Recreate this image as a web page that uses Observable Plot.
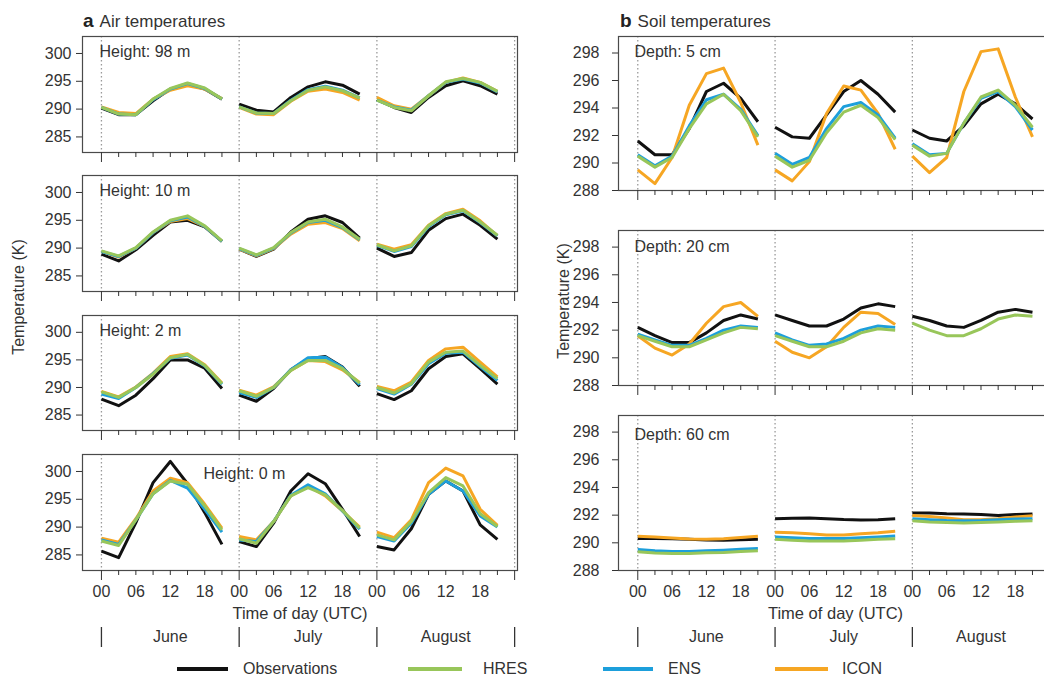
<!DOCTYPE html>
<html>
<head>
<meta charset="utf-8">
<script src="https://cdn.jsdelivr.net/npm/d3@7"></script>
<script src="https://cdn.jsdelivr.net/npm/@observablehq/plot@0.6"></script>
<style>
  html, body { margin: 0; padding: 0; background: #fff; }
  #root { position: relative; width: 1044px; height: 680px; overflow: hidden; background: #fff;
          font-family: "Liberation Sans", Arial, Helvetica, sans-serif; color: #333; }
  #root > * { position: absolute; }
  .ttl { font-size: 17px; line-height: 20px; white-space: nowrap; }
  .ttl b { font-size: 19px; margin-right: 6px; color: #222; }
  .ylab { font-size: 16px; white-space: nowrap; transform: translate(-50%, -50%) rotate(-90deg); line-height: 18px; }
  .leg { font-size: 16px; line-height: 18px; white-space: nowrap; }
  .sw { height: 4px; }
</style>
</head>
<body>
<div id="root"></div>
<script>
// ---------------- DATA ----------------
const months = ["June", "July", "August"];
const hours = [0, 3, 6, 9, 12, 15, 18, 21];
const seriesNames = ["Observations", "HRES", "ENS", "ICON"];
const seriesColors = ["#111111", "#98c65a", "#1d9fdb", "#f6a623"];
const airTicks = [285, 290, 295, 300];
const soilTicks = [288, 290, 292, 294, 296, 298];
const hourLabels = [0, 6, 12, 18];

// each series: June (00..21 UTC), July, August
const air98m = {
  Observations: [290.2, 289.0, 289.0, 291.5, 293.6, 294.5, 293.6, 291.8,  290.9, 289.8, 289.5, 292.1, 294.0, 294.9, 294.3, 292.7,  291.7, 290.3, 289.4, 292.1, 294.2, 295.1, 294.2, 292.7],
  HRES:         [290.3, 289.1, 289.0, 291.8, 293.7, 294.7, 293.8, 291.8,  290.4, 289.3, 289.2, 291.5, 293.4, 294.0, 293.3, 292.0,  291.6, 290.3, 289.7, 292.4, 294.9, 295.5, 294.8, 293.2],
  ENS:          [290.3, 289.1, 289.0, 291.7, 293.6, 294.6, 293.7, 291.8,  290.4, 289.3, 289.2, 291.6, 293.5, 294.1, 293.4, 292.0,  291.6, 290.4, 289.8, 292.4, 294.8, 295.4, 294.7, 293.1],
  ICON:         [290.4, 289.4, 289.2, 291.8, 293.4, 294.2, 293.6, 291.9,  290.3, 289.1, 289.0, 291.4, 293.2, 293.6, 293.0, 291.6,  292.1, 290.6, 290.0, 292.4, 294.8, 295.6, 294.8, 293.2]
};
const air10m = {
  Observations: [288.9, 287.7, 289.7, 292.3, 294.7, 295.0, 293.8, 291.2,  289.8, 288.5, 289.8, 292.9, 295.2, 295.8, 294.6, 291.8,  290.0, 288.5, 289.2, 293.2, 295.3, 296.1, 294.1, 291.6],
  HRES:         [289.5, 288.6, 290.1, 292.9, 295.0, 295.8, 294.0, 291.3,  290.0, 288.8, 290.1, 292.8, 294.7, 295.2, 293.8, 291.6,  290.6, 289.5, 290.4, 294.0, 296.1, 296.8, 294.7, 292.3],
  ENS:          [289.4, 288.5, 290.0, 292.8, 294.9, 295.6, 293.9, 291.2,  289.9, 288.7, 290.0, 292.7, 294.6, 295.0, 293.7, 291.5,  290.5, 289.4, 290.3, 293.9, 296.0, 296.7, 294.6, 292.2],
  ICON:         [289.4, 288.4, 290.0, 292.8, 294.8, 295.3, 293.9, 291.2,  289.8, 288.6, 289.9, 292.5, 294.3, 294.6, 293.5, 291.3,  290.7, 289.8, 290.6, 294.1, 296.2, 297.0, 294.9, 292.2]
};
const air2m = {
  Observations: [287.9, 286.7, 288.6, 291.6, 295.0, 295.0, 293.5, 289.8,  288.6, 287.5, 289.8, 293.2, 295.2, 295.6, 293.7, 290.2,  288.9, 287.8, 289.4, 293.4, 295.6, 296.1, 293.4, 290.6],
  HRES:         [289.2, 288.2, 290.0, 292.4, 295.4, 296.0, 294.0, 290.7,  289.4, 288.4, 290.0, 293.1, 294.9, 294.9, 293.4, 290.8,  290.0, 289.0, 290.7, 294.6, 296.4, 296.6, 294.0, 291.6],
  ENS:          [288.8, 288.0, 290.0, 292.5, 295.3, 295.9, 293.9, 290.6,  289.1, 288.2, 290.0, 293.2, 295.4, 295.5, 293.6, 290.5,  289.8, 288.8, 290.6, 294.3, 296.2, 296.4, 293.8, 291.3],
  ICON:         [289.3, 288.3, 290.1, 292.6, 295.6, 296.1, 294.1, 290.8,  289.5, 288.6, 290.1, 293.1, 294.9, 294.7, 293.2, 290.9,  290.2, 289.4, 291.0, 294.9, 297.0, 297.3, 294.6, 291.9]
};
const air0m = {
  Observations: [285.7, 284.5, 290.8, 298.0, 301.8, 297.8, 292.6, 286.9,  287.4, 286.5, 290.7, 296.5, 299.6, 297.8, 293.2, 288.3,  286.5, 285.9, 289.7, 295.9, 298.3, 296.5, 290.4, 287.8],
  HRES:         [287.5, 286.7, 291.3, 296.0, 298.3, 297.7, 293.8, 289.5,  287.9, 287.1, 291.0, 295.6, 297.1, 295.8, 293.0, 289.8,  288.6, 287.7, 291.0, 296.2, 298.9, 297.4, 292.4, 290.1],
  ENS:          [287.7, 286.9, 291.3, 296.0, 298.4, 297.0, 293.2, 289.1,  287.7, 287.4, 291.0, 295.7, 297.6, 296.0, 292.9, 289.6,  288.3, 287.5, 290.7, 295.9, 298.3, 296.5, 292.0, 290.0],
  ICON:         [288.0, 287.3, 291.5, 296.5, 298.8, 298.0, 294.1, 289.8,  288.3, 287.7, 291.0, 295.6, 297.4, 295.6, 292.9, 290.0,  289.1, 288.1, 291.3, 298.0, 300.6, 299.2, 293.2, 290.3]
};
const soil5cm = {
  Observations: [291.6, 290.6, 290.6, 292.5, 295.2, 295.8, 294.7, 293.0,  292.6, 291.9, 291.8, 293.5, 295.2, 296.0, 295.0, 293.7,  292.4, 291.8, 291.6, 292.7, 294.3, 295.0, 294.3, 293.2],
  HRES:         [290.5, 289.7, 290.4, 292.5, 294.3, 295.0, 293.8, 291.9,  290.5, 289.7, 290.2, 292.2, 293.7, 294.2, 293.3, 291.7,  291.3, 290.5, 290.7, 292.9, 294.8, 295.3, 294.2, 292.6],
  ENS:          [290.6, 289.8, 290.5, 292.7, 294.6, 295.0, 293.9, 292.0,  290.7, 289.9, 290.4, 292.5, 294.1, 294.4, 293.5, 291.8,  291.4, 290.6, 290.7, 292.9, 294.7, 295.2, 294.1, 292.4],
  ICON:         [289.5, 288.5, 290.4, 294.2, 296.5, 296.9, 294.4, 291.3,  289.5, 288.7, 290.1, 293.6, 295.6, 295.3, 293.6, 291.0,  290.5, 289.3, 290.4, 295.2, 298.1, 298.3, 294.8, 291.9]
};
const soil20cm = {
  Observations: [292.2, 291.6, 291.1, 291.1, 291.8, 292.7, 293.1, 292.8,  293.1, 292.7, 292.3, 292.3, 292.8, 293.6, 293.9, 293.7,  293.0, 292.7, 292.3, 292.2, 292.7, 293.3, 293.5, 293.3],
  HRES:         [291.6, 291.2, 290.8, 290.8, 291.3, 291.8, 292.2, 292.1,  291.6, 291.2, 290.8, 290.8, 291.2, 291.8, 292.1, 292.0,  292.5, 292.0, 291.6, 291.6, 292.1, 292.8, 293.1, 293.0],
  ENS:          [291.7, 291.3, 290.9, 290.9, 291.4, 292.0, 292.3, 292.2,  291.8, 291.3, 290.9, 291.0, 291.4, 292.0, 292.3, 292.2,  null, null, null, null, null, null, null, null],
  ICON:         [291.6, 290.7, 290.2, 291.0, 292.5, 293.7, 294.0, 293.0,  291.2, 290.4, 290.0, 290.8, 292.2, 293.3, 293.2, 292.4,  null, null, null, null, null, null, null, null]
};
const soil60cm = {
  Observations: [290.32, 290.32, 290.30, 290.25, 290.20, 290.18, 290.22, 290.25,  291.74, 291.78, 291.79, 291.74, 291.68, 291.65, 291.67, 291.74,  292.15, 292.15, 292.10, 292.08, 292.04, 291.98, 292.04, 292.08],
  HRES:         [289.35, 289.26, 289.23, 289.23, 289.28, 289.30, 289.37, 289.42,  290.25, 290.18, 290.13, 290.13, 290.13, 290.18, 290.25, 290.30,  291.60, 291.50, 291.46, 291.44, 291.46, 291.50, 291.55, 291.60],
  ENS:          [289.52, 289.42, 289.37, 289.37, 289.42, 289.47, 289.54, 289.59,  290.42, 290.37, 290.32, 290.32, 290.32, 290.37, 290.42, 290.49,  291.74, 291.67, 291.62, 291.60, 291.62, 291.67, 291.72, 291.74],
  ICON:         [290.48, 290.42, 290.35, 290.28, 290.25, 290.30, 290.38, 290.48,  290.77, 290.72, 290.65, 290.56, 290.56, 290.65, 290.72, 290.84,  291.98, 291.90, 291.79, 291.67, 291.67, 291.74, 291.86, 291.96]
};

// ---------------- BUILD ----------------
const root = document.getElementById("root");
const FONT = '"Liberation Sans", Arial, Helvetica, sans-serif';
const color = Object.fromEntries(seriesNames.map((s, i) => [s, seriesColors[i]]));
const drawOrder = ["Observations", "ICON", "ENS", "HRES"];
const monthStarts = months.map((m, i) => i * 24).concat([months.length * 24]);
const minorTicks = months.flatMap((m, i) => hours.filter(h => h > 0).map(h => i * 24 + h));
const labelTicks = months.flatMap((m, i) => hourLabels.map(h => i * 24 + h));
const monthMid = months.map((m, i) => ({ t: i * 24 + 12, name: m }));

function toRows(obj) {
  const rows = [];
  for (const s of seriesNames) {
    obj[s].forEach((v, k) => {
      const mi = Math.floor(k / hours.length);
      const h = hours[k % hours.length];
      if (v != null) rows.push({ series: s, month: months[mi], t: mi * 24 + h, value: v });
    });
  }
  return rows;
}

const leftCol = { left: 0, marginLeft: 82, frameW: 435, marginRight: 5, xDomain: [-3.3, 72.5], tickPadding: 5 };
const rightCol = { left: 540, marginLeft: 78, frameW: 434, marginRight: 2, xDomain: [-3.37, 72.5], tickPadding: 13 };

function place(node, left, top) {
  node.style.position = "absolute";
  node.style.left = left + "px";
  node.style.top = top + "px";
  root.appendChild(node);
}

function panel(col, cfg) {
  const rows = toRows(cfg.data);
  const mb = cfg.bottom ? 40 : 14;
  const marks = [
    Plot.ruleX(monthStarts, { x: d => d, stroke: "#9a9a9a", strokeWidth: 1.3, strokeDasharray: "1.6,2.4" }),
    ...drawOrder.map(s => Plot.line(rows.filter(r => r.series === s), {
      x: "t", y: "value", z: "month", stroke: color[s], strokeWidth: 3, strokeLinejoin: "round", strokeLinecap: "butt"
    })),
    Plot.frame({ stroke: "#4a4a4a", strokeWidth: 1.2 }),
    Plot.axisY({ ticks: cfg.yTicks, tickSize: 6, tickPadding: col.tickPadding, label: null, fontSize: 16 }),
    Plot.axisX({ ticks: minorTicks, tickSize: 5, tickFormat: () => "", label: null }),
    Plot.axisX({ ticks: monthStarts, tickSize: 10, tickFormat: () => "", label: null }),
    Plot.text([cfg.label], { frameAnchor: "top-left", dx: cfg.labelDx, dy: cfg.labelDy, fontSize: 16, fill: "#333" })
  ];
  if (cfg.bottom) {
    marks.push(Plot.axisX({ ticks: labelTicks, tickSize: 0, tickPadding: 15, fontSize: 16,
      tickFormat: d => String(d % 24).padStart(2, "0"), label: null }));
  }
  const svg = Plot.plot({
    width: col.marginLeft + col.frameW + col.marginRight,
    height: 2 + cfg.h + mb,
    marginLeft: col.marginLeft, marginRight: col.marginRight, marginTop: 2, marginBottom: mb,
    x: { domain: col.xDomain },
    y: { domain: cfg.yDomain },
    style: { fontFamily: FONT, fontSize: "16px", color: "#333", background: "transparent", overflow: "visible" },
    marks
  });
  place(svg, col.left, cfg.top - 2);
}

function monthStrip(col) {
  const svg = Plot.plot({
    width: col.marginLeft + col.frameW + col.marginRight,
    height: 22 + 20 + 6,
    marginLeft: col.marginLeft, marginRight: col.marginRight, marginTop: 22, marginBottom: 6,
    x: { domain: col.xDomain, axis: null },
    style: { fontFamily: FONT, fontSize: "16px", color: "#333", background: "transparent", overflow: "visible" },
    marks: [
      Plot.ruleX(monthStarts, { x: d => d, stroke: "#333", strokeWidth: 1.3 }),
      Plot.text(monthMid, { x: "t", text: "name", frameAnchor: "middle", dy: -1, fontSize: 16, fill: "#333" }),
      Plot.text(["Time of day (UTC)"], { frameAnchor: "top", lineAnchor: "middle", dy: -14, fontSize: 16.5, fill: "#333" })
    ]
  });
  place(svg, col.left, 627 - 22);
}

const airDomain = [282.2, 303.05];
const soilDomain = [288, 299.2];
const leftPanels = [
  { data: air98m, label: "Height: 98 m", top: 36,  h: 116, labelDx: 17, labelDy: 9 },
  { data: air10m, label: "Height: 10 m", top: 175, h: 116, labelDx: 17, labelDy: 9 },
  { data: air2m,  label: "Height: 2 m",  top: 315, h: 115, labelDx: 17, labelDy: 9 },
  { data: air0m,  label: "Height: 0 m",  top: 454, h: 116, labelDx: 121, labelDy: 13, bottom: true }
];
const rightPanels = [
  { data: soil5cm,  label: "Depth: 5 cm",  top: 36,  h: 154, labelDx: 16, labelDy: 9 },
  { data: soil20cm, label: "Depth: 20 cm", top: 230, h: 155, labelDx: 16, labelDy: 10 },
  { data: soil60cm, label: "Depth: 60 cm", top: 415, h: 155, labelDx: 16, labelDy: 13, bottom: true }
];
leftPanels.forEach(p => panel(leftCol, { ...p, yDomain: airDomain, yTicks: airTicks }));
rightPanels.forEach(p => panel(rightCol, { ...p, yDomain: soilDomain, yTicks: soilTicks }));
monthStrip(leftCol);
monthStrip(rightCol);

// titles
function html(tag, cls, inner, left, top) {
  const el = document.createElement(tag);
  el.className = cls;
  el.innerHTML = inner;
  el.style.left = left + "px";
  el.style.top = top + "px";
  root.appendChild(el);
  return el;
}
html("div", "ttl", "<b>a</b>Air temperatures", 83, 11);
html("div", "ttl", "<b>b</b>Soil temperatures", 620, 11);
html("div", "ylab", "Temperature (K)", 19, 297);
html("div", "ylab", "Temperature (K)", 564, 301);

// legend
const legendX = [[177, 228, 243], [408, 462, 483], [603, 653, 668], [775, 828, 842]];
seriesNames.forEach((s, i) => {
  const [x0, x1, tx] = legendX[i];
  const sw = html("div", "sw", "", x0, 667);
  sw.style.width = (x1 - x0) + "px";
  sw.style.background = color[s];
  html("div", "leg", s, tx, 660);
});
</script>
</body>
</html>
